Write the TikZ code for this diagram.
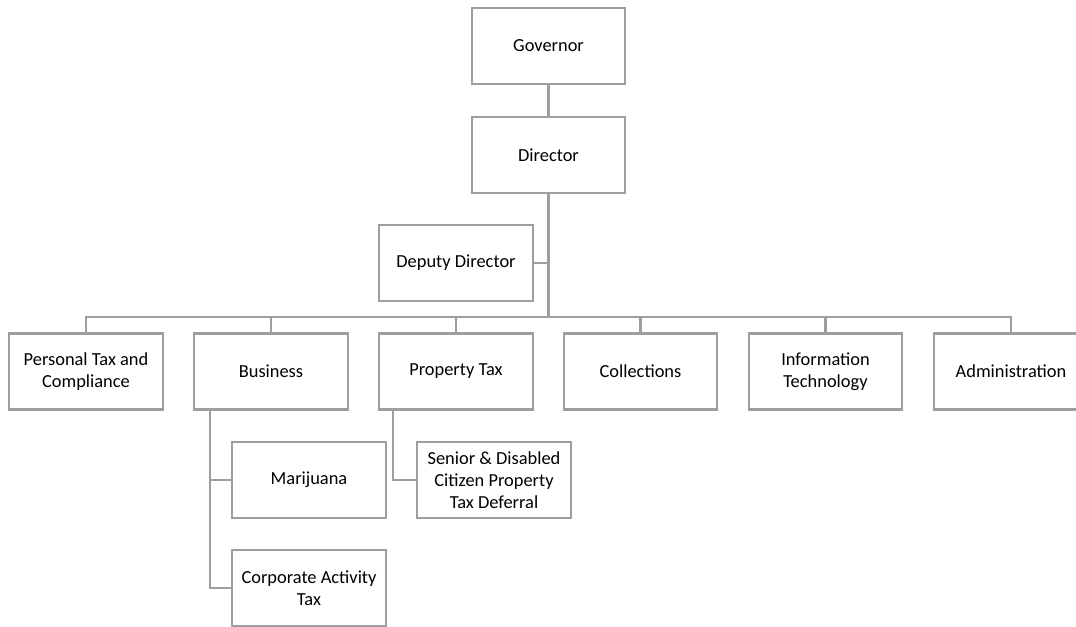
\documentclass[tikz,border=0pt]{standalone}
\usepackage{fontspec}
\setmainfont{Carlito}
\usepackage{tikz}
\usetikzlibrary{positioning}
\definecolor{linegray}{RGB}{158,158,158}

\tikzset{
  orgbox/.style={draw=linegray, line width=1.6pt, fill=white, minimum width=115pt, minimum height=57pt,
    inner sep=2pt, align=center, font=\fontsize{13.8}{16.3}\selectfont},
  orgline/.style={draw=linegray, line width=1.6pt}
}

\begin{document}
\begin{tikzpicture}[x=0.75pt,y=0.75pt,yscale=-1,xscale=1]
  \useasboundingbox (0,0) rectangle (1076,626);
  \clip (0,0) rectangle (1076,626);

  % top of the chart
  \node[orgbox] (gov) at (548.5,46) {Governor};
  \node[orgbox] (dir) at (548.5,155) {Director};
  \node[orgbox] (dep) at (456,263) {Deputy Director};

  % divisions
  \node[orgbox] (pers)  at (86,371.5)   {Personal Tax and\\Compliance};
  \node[orgbox] (biz)   at (271,371.5)  {Business};
  \node[orgbox] (prop)  at (456,371.5)  {Property Tax};
  \node[orgbox] (coll)  at (640.5,371.5) {Collections};
  \node[orgbox] (it)    at (825.5,371.5) {Information\\Technology};
  \node[orgbox] (admin) at (1011,371.5) {Administration};

  % sections
  \node[orgbox] (mar)    at (309,480) {Marijuana};
  \node[orgbox] (corp)   at (309,588) {Corporate Activity\\Tax};
  \node[orgbox] (senior) at (494,480) {Senior \& Disabled\\Citizen Property\\Tax Deferral};

  % connectors
  \coordinate (busL) at (86,317);
  \draw[orgline] (gov.south) -- (dir.north);
  \draw[orgline] (dir.south) -- (dir.south |- busL);
  \draw[orgline] (dep.east) -- (dep.east -| dir.south);
  \draw[orgline] (pers.north) -- (busL) -| (admin.north);
  \foreach \n in {biz,prop,coll,it}
    \draw[orgline] (\n.north) -- (\n.north |- busL);
  \draw[orgline] ([xshift=12.75pt]biz.south west) |- (corp.west);
  \draw[orgline] ([xshift=12.75pt]biz.south west |- mar.west) -- (mar.west);
  \draw[orgline] ([xshift=11.25pt]prop.south west) |- (senior.west);

\end{tikzpicture}
\end{document}
